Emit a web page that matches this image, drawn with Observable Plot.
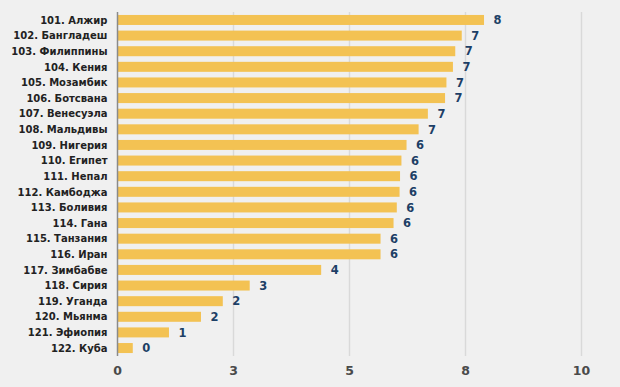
<!DOCTYPE html>
<html>
<head>
<meta charset="utf-8">
<script src="https://cdn.jsdelivr.net/npm/d3@7"></script>
<script src="https://cdn.jsdelivr.net/npm/@observablehq/plot@0.6"></script>
<style>
  html, body { margin: 0; padding: 0; background: #f0f0f0; }
  #chart svg { display: block; }
</style>
</head>
<body>
<div id="chart"></div>
<script>
const countries = [
  "101. Алжир", "102. Бангладеш", "103. Филиппины", "104. Кения", "105. Мозамбик",
  "106. Ботсвана", "107. Венесуэла", "108. Мальдивы", "109. Нигерия", "110. Египет",
  "111. Непал", "112. Камбоджа", "113. Боливия", "114. Гана", "115. Танзания",
  "116. Иран", "117. Зимбабве", "118. Сирия", "119. Уганда", "120. Мьянма",
  "121. Эфиопия", "122. Куба"
];
const values = [
  7.91, 7.43, 7.29, 7.24, 7.10,
  7.07, 6.70, 6.50, 6.24, 6.13,
  6.10, 6.09, 6.03, 5.96, 5.68,
  5.68, 4.40, 2.86, 2.28, 1.81,
  1.12, 0.34
];
const xTicks = [0, 2.5, 5, 7.5, 10];

const data = countries.map((c, i) => ({country: c, value: values[i]}));

const chart = Plot.plot({
  width: 620,
  height: 387,
  marginLeft: 117,
  marginRight: 39,
  marginTop: 12,
  marginBottom: 31,
  style: {background: "#f0f0f0", fontFamily: "DejaVu Sans", fontWeight: "bold"},
  x: {domain: [0, 10], ticks: xTicks, tickFormat: d => String(Math.round(d)), label: null},
  y: {domain: countries, paddingInner: 0.36, paddingOuter: 0.19, round: false, label: null},
  marks: [
    Plot.ruleX(xTicks.slice(1), {stroke: "#d9d9d9", strokeWidth: 1.5}),
    Plot.barX(data, {y: "country", x: "value", fill: "#f3c253"}),
    Plot.ruleX([0], {stroke: "#8a8a8a", strokeWidth: 1.5}),
    Plot.text(data, {
      y: "country", x: "value", text: d => String(Math.round(d.value)),
      textAnchor: "start", dx: 9, fill: "#1d3f66", fontSize: 11.5, fontWeight: "bold"
    }),
    Plot.axisY({tickSize: 0, tickPadding: 10, fontSize: 10, fill: "#222", fontWeight: "bold"}),
    Plot.axisX({ticks: xTicks, tickFormat: d => String(Math.round(d)), tickSize: 0, tickPadding: 10, fontSize: 12.5, fill: "#4a4a4a", fontWeight: "bold", label: null})
  ]
});
document.getElementById("chart").appendChild(chart);
</script>
</body>
</html>
